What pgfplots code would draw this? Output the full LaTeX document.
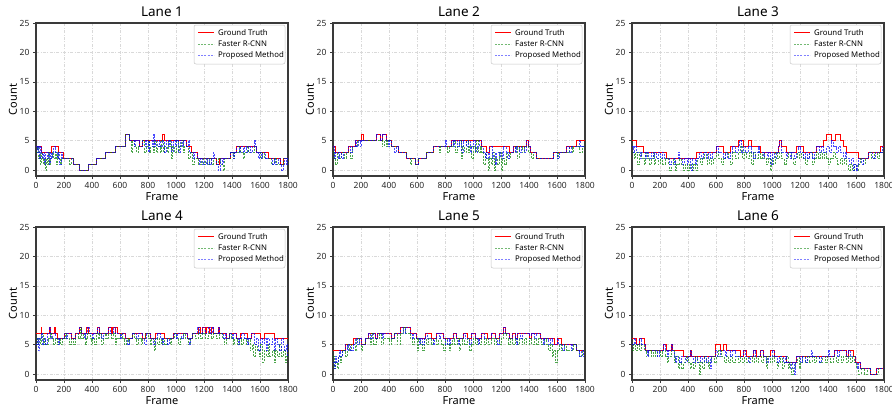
\documentclass[border=0pt]{standalone}
\usepackage{fontspec}
\setmainfont{Noto Sans}
\usepackage{pgfplots}
\pgfplotsset{compat=1.18}
\definecolor{gtRed}{HTML}{FF0000}
\definecolor{frGreen}{HTML}{008000}
\definecolor{pmBlue}{HTML}{0000FF}
\definecolor{frameGray}{HTML}{3A3A3A}
\pgfplotsset{
  lane/.style={
    anchor=north west, scale only axis, width=252pt, height=153pt,
    xmin=0, xmax=1800, ymin=-1, ymax=25,
    xtick={0,200,...,1800}, ytick={0,5,...,25},
    axis line style={draw=frameGray, line width=1.1pt},
    tick style={draw=frameGray, line width=0.6pt}, tick align=outside,
    major tick length=3pt, tick pos=left,
    grid=major, grid style={draw=gray!30, dash pattern=on 3pt off 1.5pt on 0.8pt off 1.5pt, line width=0.5pt},
    ticklabel style={font=\fontsize{8.5}{10}\selectfont, text=black!85},
    /pgf/number format/assume math mode=true,
    /pgf/number format/set thousands separator={},
    xlabel={Frame}, ylabel={Count},
    label style={font=\fontsize{11}{13}\selectfont},
    xlabel style={yshift=3pt}, ylabel style={yshift=-4pt},
    title style={font=\fontsize{13.5}{15}\selectfont, yshift=-3pt},
  },
  gt/.style={const plot, draw=gtRed, line width=0.8pt},
  fr/.style={const plot, draw=frGreen, line width=0.7pt, opacity=0.7, dash pattern=on 2pt off 1.2pt},
  pm/.style={const plot, draw=pmBlue, line width=0.7pt, opacity=0.7, dash pattern=on 2pt off 1.2pt},
}
% legend box, drawn at the upper right of each panel
\newcommand{\lanelegend}{%
  \draw[draw=gray!45, fill=white, rounded corners=2pt, line width=0.5pt]
    ([shift={(-94pt,-2pt)}]axis description cs:1,1) rectangle ([shift={(-3pt,-41pt)}]axis description cs:1,1);
  \draw[draw=gtRed, line width=0.9pt] ([shift={(-90pt,-9.5pt)}]axis description cs:1,1) -- ++(16pt,0pt);
  \draw[draw=frGreen!55, line width=0.6pt, dash pattern=on 2pt off 1.2pt] ([shift={(-90pt,-21pt)}]axis description cs:1,1) -- ++(16pt,0pt);
  \draw[draw=pmBlue!50, line width=0.6pt, dash pattern=on 2pt off 1.2pt] ([shift={(-90pt,-32.5pt)}]axis description cs:1,1) -- ++(16pt,0pt);
  \node[anchor=west, inner sep=0pt, font=\fontsize{7.8}{9}\selectfont] at ([shift={(-70pt,-9.5pt)}]axis description cs:1,1) {Ground Truth};
  \node[anchor=west, inner sep=0pt, font=\fontsize{7.8}{9}\selectfont] at ([shift={(-70pt,-21pt)}]axis description cs:1,1) {Faster R-CNN};
  \node[anchor=west, inner sep=0pt, font=\fontsize{7.8}{9}\selectfont] at ([shift={(-70pt,-32.5pt)}]axis description cs:1,1) {Proposed Method};
}
\begin{document}
\begin{tikzpicture}
\useasboundingbox (0,0) rectangle (892pt,-407pt);

% ---------------- Lane 1
\begin{axis}[lane, at={(36pt,-23pt)}, title={Lane 1}]
\addplot[gt] coordinates {(0,4)(40,3)(110,4)(160,3)(195,2)(267,1)(310,0)(374,1)(433,2)(493,3)(564,4)(636,6)(667,5)(735,4)(760,5)(900,6)(915,5)(1076,4)(1110,3)(1150,2)(1290,1)(1310,2)(1390,3)(1433,4)(1576,3)(1660,2)(1745,1)(1770,2)(1800,2)};
\addplot[fr] coordinates {(0,3)(8,4)(15,2)(22,3)(30,1)(38,3)(45,2)(52,1)(60,2)(68,0)(75,2)(82,1)(90,3)(98,1)(105,2)(115,3)(125,2)(135,3)(145,1)(155,3)(162,2)(172,1)(180,2)(200,2)(240,1)(250,2)(267,1)(310,0)(374,1)(433,2)(493,3)(564,4)(636,6)(667,5)(680,3)(690,5)(700,4)(720,3)(730,4)(760,5)(775,3)(785,4)(800,5)(812,3)(820,4)(835,3)(842,5)(860,3)(870,4)(885,3)(895,5)(910,3)(918,4)(935,3)(945,5)(960,4)(968,2)(975,4)(990,3)(1000,5)(1015,3)(1025,4)(1040,5)(1050,3)(1060,4)(1076,4)(1090,2)(1100,3)(1120,1)(1130,2)(1150,2)(1160,1)(1180,2)(1195,1)(1210,2)(1225,1)(1240,2)(1255,1)(1265,2)(1290,1)(1305,2)(1320,1)(1335,0)(1345,2)(1390,3)(1410,2)(1420,3)(1433,3)(1450,4)(1460,3)(1480,2)(1490,3)(1510,4)(1520,3)(1545,3)(1560,4)(1576,3)(1600,2)(1615,3)(1630,2)(1660,2)(1680,1)(1700,2)(1715,1)(1745,1)(1770,2)(1800,2)};
\addplot[pm] coordinates {(0,4)(10,3)(18,4)(25,2)(32,4)(40,3)(48,2)(55,3)(62,1)(70,3)(78,2)(86,3)(95,1)(102,3)(110,2)(118,3)(126,4)(140,3)(150,2)(158,3)(170,1)(178,3)(186,2)(267,1)(310,0)(374,1)(433,2)(493,3)(564,4)(640,6)(667,5)(700,4)(712,5)(735,4)(760,5)(780,4)(790,5)(805,3)(812,5)(830,4)(838,6)(845,4)(852,5)(868,4)(878,5)(890,4)(900,5)(920,3)(928,5)(945,4)(955,5)(970,3)(978,5)(995,4)(1005,5)(1020,3)(1028,5)(1045,4)(1052,5)(1076,4)(1085,5)(1092,3)(1110,3)(1125,2)(1132,3)(1150,2)(1165,1)(1175,2)(1190,1)(1200,2)(1215,1)(1225,2)(1240,1)(1250,2)(1265,3)(1272,2)(1290,1)(1300,0)(1315,2)(1330,1)(1340,2)(1390,3)(1410,2)(1420,3)(1433,4)(1450,3)(1462,4)(1480,3)(1490,4)(1505,3)(1515,4)(1530,3)(1545,4)(1560,5)(1566,4)(1576,3)(1590,2)(1598,3)(1610,2)(1620,3)(1640,2)(1660,2)(1690,1)(1700,2)(1712,1)(1730,2)(1745,1)(1755,0)(1765,1)(1775,2)(1785,1)(1792,2)(1800,2)};
\lanelegend
\end{axis}

% ---------------- Lane 2
\begin{axis}[lane, at={(333pt,-23pt)}, title={Lane 2}]
\addplot[gt] coordinates {(0,4)(14,3)(110,4)(157,5)(205,6)(215,5)(312,6)(336,5)(354,6)(378,5)(420,4)(467,3)(526,2)(585,1)(610,2)(670,3)(717,4)(848,5)(1062,4)(1098,3)(1120,4)(1260,3)(1288,4)(1380,5)(1395,4)(1407,3)(1455,2)(1574,3)(1669,4)(1740,5)(1800,5)};
\addplot[fr] coordinates {(0,3)(10,2)(20,1)(30,3)(45,2)(60,3)(80,2)(95,3)(110,3)(125,2)(135,4)(157,4)(175,5)(205,5)(312,5)(336,5)(350,4)(365,5)(378,4)(390,5)(420,4)(467,3)(526,2)(550,1)(560,2)(585,1)(610,2)(670,3)(717,4)(760,3)(770,4)(820,3)(830,4)(848,4)(860,5)(875,3)(885,4)(900,5)(915,2)(925,4)(940,3)(950,5)(965,3)(975,4)(990,2)(1000,4)(1015,3)(1025,5)(1040,3)(1050,4)(1062,3)(1075,1)(1085,3)(1098,2)(1110,0)(1118,2)(1130,1)(1140,3)(1150,0)(1160,2)(1175,1)(1185,3)(1200,0)(1210,2)(1225,1)(1240,3)(1255,2)(1270,3)(1288,3)(1300,4)(1315,2)(1330,4)(1350,3)(1365,4)(1395,3)(1420,2)(1430,3)(1455,2)(1574,3)(1600,2)(1610,3)(1669,3)(1690,4)(1710,3)(1720,4)(1740,4)(1760,3)(1780,4)(1800,4)};
\addplot[pm] coordinates {(0,4)(8,2)(20,3)(35,2)(45,3)(60,2)(75,3)(110,4)(125,3)(135,4)(157,5)(170,4)(180,5)(195,4)(205,5)(215,5)(312,6)(336,5)(354,6)(378,5)(395,4)(405,5)(420,4)(440,3)(450,4)(467,3)(526,2)(585,1)(610,2)(670,3)(717,4)(800,5)(808,4)(848,5)(860,4)(870,5)(890,4)(900,5)(920,3)(930,5)(950,4)(965,5)(980,3)(990,4)(1005,5)(1020,3)(1030,4)(1045,5)(1062,4)(1075,3)(1085,2)(1098,3)(1110,2)(1120,4)(1135,2)(1145,3)(1160,1)(1170,3)(1185,2)(1195,3)(1210,2)(1220,4)(1235,3)(1245,2)(1260,3)(1288,4)(1300,3)(1310,4)(1330,3)(1345,4)(1365,3)(1380,5)(1395,4)(1407,3)(1455,2)(1574,3)(1600,2)(1615,3)(1669,4)(1690,3)(1700,4)(1740,4)(1760,5)(1770,4)(1800,4)};
\lanelegend
\end{axis}

% ---------------- Lane 3
\begin{axis}[lane, at={(632pt,-23pt)}, title={Lane 3}]
\addplot[gt] coordinates {(0,5)(33,4)(81,3)(248,2)(462,3)(605,4)(652,3)(700,4)(760,5)(795,4)(830,5)(850,4)(919,3)(1045,4)(1055,5)(1070,4)(1100,3)(1176,4)(1224,3)(1319,4)(1367,5)(1390,6)(1426,5)(1450,6)(1486,5)(1510,4)(1533,3)(1617,2)(1688,3)(1771,4)(1800,4)};
\addplot[fr] coordinates {(0,3)(15,2)(25,3)(40,1)(50,3)(70,2)(85,1)(95,3)(110,2)(125,1)(135,2)(150,3)(160,1)(170,2)(185,1)(200,2)(220,1)(235,2)(260,1)(270,0)(280,1)(295,2)(310,0)(320,1)(335,2)(350,1)(365,0)(380,1)(395,0)(410,1)(425,0)(440,1)(455,0)(470,2)(490,1)(505,2)(520,3)(535,1)(550,2)(565,1)(580,2)(600,3)(620,2)(640,1)(655,2)(670,3)(690,2)(705,1)(720,3)(740,2)(760,3)(775,4)(790,2)(805,3)(820,2)(840,3)(855,1)(865,3)(880,2)(900,3)(915,2)(930,3)(945,2)(960,1)(975,2)(985,0)(995,2)(1010,1)(1025,3)(1040,2)(1055,3)(1070,2)(1085,1)(1100,2)(1120,3)(1135,2)(1150,1)(1165,2)(1180,3)(1195,2)(1210,3)(1225,2)(1240,1)(1255,2)(1270,3)(1285,1)(1300,2)(1315,3)(1330,2)(1345,3)(1360,2)(1375,3)(1390,2)(1405,1)(1420,2)(1440,3)(1455,2)(1470,1)(1485,2)(1500,1)(1515,2)(1530,1)(1545,0)(1560,1)(1575,0)(1590,1)(1605,0)(1615,1)(1630,2)(1650,1)(1665,2)(1690,3)(1710,2)(1730,3)(1750,2)(1770,3)(1800,3)};
\addplot[pm] coordinates {(0,4)(10,3)(20,4)(33,3)(60,2)(70,3)(81,3)(95,2)(105,3)(120,2)(135,3)(150,2)(160,3)(175,2)(190,3)(205,2)(215,3)(230,2)(248,2)(270,1)(280,2)(300,1)(310,2)(330,3)(340,2)(360,1)(375,2)(395,1)(405,2)(420,0)(430,2)(450,1)(462,2)(480,3)(495,2)(510,3)(530,2)(545,3)(560,2)(575,3)(605,4)(620,3)(652,2)(665,3)(680,2)(700,3)(720,4)(740,3)(760,4)(770,5)(780,3)(795,4)(810,3)(830,4)(850,3)(870,2)(880,3)(900,4)(910,3)(919,3)(935,2)(945,3)(965,2)(975,3)(990,1)(1000,3)(1020,2)(1030,3)(1045,4)(1055,5)(1070,3)(1100,2)(1110,3)(1130,2)(1140,3)(1160,2)(1176,3)(1190,4)(1200,3)(1224,2)(1240,3)(1255,2)(1270,3)(1290,2)(1305,3)(1319,4)(1335,3)(1350,4)(1367,3)(1390,4)(1410,3)(1426,5)(1440,4)(1460,3)(1475,4)(1486,3)(1510,2)(1525,3)(1533,2)(1550,1)(1565,2)(1580,0)(1590,1)(1600,0)(1610,1)(1617,2)(1640,1)(1650,2)(1688,3)(1720,2)(1735,3)(1771,3)(1785,4)(1800,4)};
\lanelegend
\end{axis}

% ---------------- Lane 4
\begin{axis}[lane, at={(36pt,-227pt)}, title={Lane 4}]
\addplot[gt] coordinates {(0,7)(35,8)(42,7)(95,8)(102,7)(130,8)(137,7)(150,6)(200,7)(250,6)(280,7)(310,8)(325,7)(360,8)(375,7)(440,8)(450,7)(515,8)(535,7)(545,8)(565,7)(570,8)(580,7)(640,6)(690,7)(760,6)(780,7)(820,6)(850,7)(920,6)(980,7)(1080,6)(1120,7)(1160,8)(1175,7)(1190,8)(1210,7)(1220,8)(1240,7)(1250,8)(1270,7)(1300,8)(1310,7)(1360,6)(1380,7)(1430,6)(1460,7)(1510,6)(1540,7)(1600,6)(1630,7)(1700,6)(1740,6)(1800,6)};
\addplot[fr] coordinates {(0,6)(10,5)(20,6)(30,5)(40,7)(50,5)(60,6)(70,5)(85,6)(100,7)(110,6)(125,5)(135,6)(150,5)(165,6)(175,5)(190,6)(210,7)(220,6)(240,5)(250,6)(270,5)(280,7)(300,6)(315,8)(325,6)(340,7)(350,5)(360,6)(370,7)(385,6)(395,5)(405,6)(420,5)(430,7)(445,6)(455,7)(470,5)(480,6)(495,7)(505,6)(520,7)(540,6)(555,7)(565,5)(575,6)(600,7)(615,6)(630,5)(645,6)(660,5)(670,6)(690,7)(705,6)(720,5)(730,6)(750,5)(760,6)(780,7)(800,6)(815,5)(825,6)(845,4)(855,6)(870,5)(880,6)(895,5)(905,6)(920,5)(935,6)(960,5)(970,6)(985,7)(1000,6)(1020,5)(1030,6)(1050,7)(1070,6)(1085,5)(1100,6)(1120,7)(1140,6)(1160,7)(1175,6)(1190,7)(1210,6)(1230,7)(1250,6)(1270,7)(1290,6)(1310,7)(1330,6)(1345,5)(1360,6)(1380,7)(1395,6)(1410,5)(1420,6)(1440,5)(1455,6)(1470,5)(1480,6)(1500,5)(1515,6)(1530,4)(1545,5)(1555,3)(1565,5)(1580,4)(1595,3)(1605,5)(1620,2)(1630,4)(1645,3)(1660,5)(1670,3)(1685,4)(1700,2)(1710,4)(1725,3)(1740,5)(1755,3)(1765,4)(1780,2)(1790,3)(1800,3)};
\addplot[pm] coordinates {(0,5)(10,6)(18,4)(25,6)(35,7)(45,5)(55,6)(70,5)(80,7)(95,8)(102,6)(115,7)(130,7)(140,6)(160,5)(170,6)(200,7)(215,6)(225,7)(250,6)(280,7)(310,8)(325,7)(345,6)(355,7)(370,8)(380,7)(400,6)(410,7)(440,8)(450,7)(470,6)(480,7)(520,8)(530,7)(550,8)(565,7)(580,7)(600,6)(610,7)(640,6)(655,5)(665,6)(690,7)(720,6)(730,7)(760,6)(775,5)(785,7)(820,6)(840,5)(850,6)(870,7)(890,6)(900,5)(910,6)(920,6)(940,5)(950,6)(980,7)(1000,6)(1010,7)(1040,6)(1050,7)(1080,6)(1095,5)(1105,6)(1120,7)(1150,8)(1165,7)(1190,8)(1210,7)(1230,8)(1245,7)(1260,8)(1270,7)(1300,8)(1310,7)(1340,6)(1350,7)(1360,6)(1380,7)(1400,6)(1410,7)(1430,6)(1445,5)(1455,6)(1470,7)(1490,6)(1510,5)(1520,6)(1540,7)(1560,5)(1575,6)(1590,4)(1600,6)(1615,5)(1630,6)(1645,4)(1655,6)(1670,5)(1685,6)(1700,4)(1710,6)(1725,5)(1740,4)(1750,6)(1765,5)(1775,4)(1785,5)(1795,3)(1800,3)};
\lanelegend
\end{axis}

% ---------------- Lane 5
\begin{axis}[lane, at={(333pt,-227pt)}, title={Lane 5}]
\addplot[gt] coordinates {(0,4)(86,5)(145,6)(205,5)(229,6)(252,7)(300,6)(320,7)(420,6)(440,7)(479,8)(550,7)(597,6)(657,7)(700,6)(740,7)(790,6)(860,7)(880,6)(930,7)(960,6)(990,7)(1020,6)(1060,7)(1100,6)(1130,7)(1160,6)(1190,7)(1220,8)(1230,7)(1260,6)(1280,7)(1300,6)(1320,7)(1400,6)(1420,7)(1480,6)(1580,5)(1600,6)(1630,5)(1740,4)(1800,4)};
\addplot[fr] coordinates {(0,3)(10,1)(20,2)(30,1)(40,3)(50,2)(60,3)(70,4)(90,3)(100,5)(115,4)(130,5)(145,5)(160,4)(170,6)(185,5)(200,4)(210,5)(229,6)(252,6)(265,5)(275,7)(290,5)(310,6)(330,7)(345,5)(360,6)(383,6)(400,5)(420,6)(440,7)(460,5)(479,7)(500,8)(520,7)(550,6)(570,5)(580,6)(600,4)(610,6)(625,5)(640,4)(650,6)(665,5)(680,6)(700,5)(720,6)(740,5)(755,6)(775,5)(790,4)(800,6)(815,5)(830,4)(840,5)(855,6)(870,5)(885,6)(900,4)(910,5)(925,6)(940,5)(960,6)(975,4)(985,5)(1000,6)(1015,5)(1030,6)(1045,5)(1060,6)(1080,5)(1095,6)(1110,5)(1130,6)(1150,5)(1170,6)(1190,5)(1200,6)(1220,7)(1235,6)(1250,5)(1265,6)(1280,5)(1300,6)(1320,5)(1330,6)(1350,5)(1365,6)(1380,5)(1400,6)(1420,5)(1435,6)(1450,5)(1470,6)(1490,5)(1510,6)(1525,5)(1540,4)(1555,5)(1565,3)(1575,4)(1590,2)(1600,4)(1615,5)(1630,4)(1650,5)(1670,4)(1700,4)(1720,5)(1740,4)(1760,3)(1780,4)(1800,4)};
\addplot[pm] coordinates {(0,2)(8,1)(15,3)(25,2)(35,3)(45,4)(55,3)(70,4)(86,5)(100,4)(110,5)(125,4)(145,5)(160,6)(175,5)(190,6)(205,5)(229,6)(252,7)(270,6)(280,7)(300,6)(320,7)(350,6)(360,7)(420,6)(440,7)(479,8)(500,7)(520,8)(550,7)(565,6)(575,7)(597,6)(615,5)(625,6)(640,5)(650,6)(657,7)(675,6)(715,5)(725,6)(740,7)(760,6)(770,7)(790,6)(805,5)(815,6)(830,5)(840,6)(860,7)(880,6)(895,5)(905,6)(930,7)(945,6)(975,5)(985,7)(1020,6)(1035,5)(1045,6)(1060,7)(1080,6)(1130,7)(1160,6)(1175,5)(1190,7)(1220,8)(1230,7)(1260,6)(1280,7)(1300,6)(1310,5)(1320,7)(1340,6)(1350,7)(1400,6)(1420,7)(1440,6)(1450,7)(1480,6)(1500,5)(1510,6)(1540,5)(1550,6)(1570,5)(1600,6)(1610,5)(1640,4)(1650,5)(1700,4)(1710,5)(1740,4)(1760,3)(1775,4)(1785,3)(1800,3)};
\lanelegend
\end{axis}

% ---------------- Lane 6
\begin{axis}[lane, at={(632pt,-227pt)}, title={Lane 6}]
\addplot[gt] coordinates {(0,6)(33,5)(52,6)(86,5)(93,4)(224,5)(248,4)(279,5)(290,4)(367,3)(415,4)(426,3)(593,5)(629,4)(652,5)(676,4)(771,3)(795,4)(820,3)(867,4)(890,3)(914,4)(938,3)(985,4)(1019,3)(1105,2)(1176,3)(1448,4)(1531,3)(1545,4)(1581,3)(1593,2)(1629,1)(1700,0)(1748,1)(1800,1)};
\addplot[fr] coordinates {(0,4)(10,5)(25,4)(40,5)(55,4)(70,5)(86,4)(100,3)(115,4)(135,3)(150,4)(165,3)(180,4)(200,3)(215,4)(235,3)(250,2)(260,3)(280,4)(300,2)(310,3)(330,1)(340,2)(355,1)(370,2)(385,3)(400,2)(415,1)(425,2)(440,1)(450,3)(470,2)(480,0)(490,2)(505,1)(515,3)(530,2)(545,1)(555,2)(570,3)(590,2)(605,3)(620,4)(640,3)(660,2)(675,3)(690,2)(705,3)(720,2)(735,3)(760,2)(775,3)(790,2)(805,3)(820,2)(840,3)(860,2)(875,3)(890,2)(905,3)(925,2)(940,3)(960,1)(970,3)(985,2)(1000,3)(1020,2)(1035,1)(1045,2)(1060,3)(1075,1)(1085,2)(1100,3)(1115,1)(1125,2)(1140,0)(1150,1)(1165,2)(1180,3)(1195,1)(1205,2)(1220,3)(1235,2)(1250,3)(1265,2)(1285,3)(1300,2)(1320,3)(1340,2)(1360,3)(1380,2)(1395,3)(1420,2)(1440,3)(1460,2)(1475,3)(1495,2)(1510,3)(1530,2)(1545,3)(1560,2)(1575,3)(1590,2)(1605,1)(1620,0)(1635,1)(1660,0)(1680,1)(1700,0)(1760,1)(1800,1)};
\addplot[pm] coordinates {(0,5)(15,6)(25,5)(52,6)(70,5)(93,4)(110,3)(120,4)(180,3)(195,4)(224,5)(240,4)(250,3)(260,4)(279,5)(290,4)(300,3)(310,2)(320,3)(335,2)(350,3)(380,2)(395,3)(415,4)(426,3)(440,2)(455,3)(470,2)(485,3)(500,2)(515,3)(530,2)(545,3)(560,1)(570,3)(593,4)(610,3)(629,4)(665,3)(676,4)(700,3)(720,4)(740,3)(795,4)(810,3)(830,2)(845,3)(867,4)(880,3)(914,4)(938,3)(960,2)(975,3)(1000,4)(1019,3)(1040,2)(1055,3)(1080,2)(1095,3)(1105,2)(1130,1)(1145,2)(1160,0)(1170,2)(1176,3)(1200,2)(1215,3)(1240,2)(1255,3)(1280,4)(1290,3)(1340,2)(1350,3)(1400,4)(1410,3)(1448,4)(1470,3)(1480,4)(1531,3)(1545,4)(1560,3)(1593,2)(1610,1)(1620,2)(1629,1)(1700,0)(1748,1)(1800,1)};
\lanelegend
\end{axis}
\end{tikzpicture}
\end{document}
